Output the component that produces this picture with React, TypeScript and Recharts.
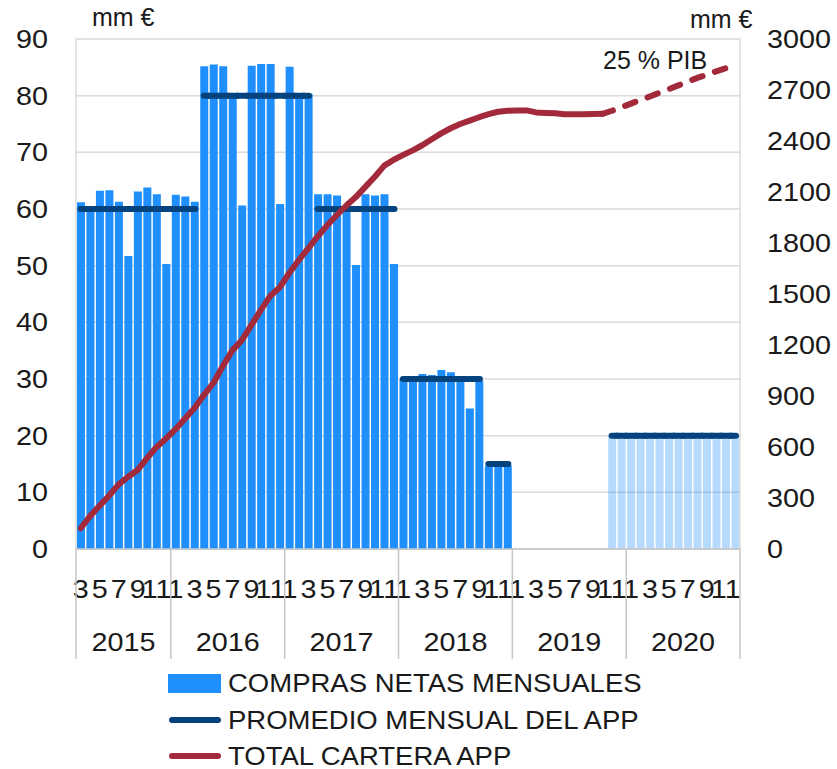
import React from "react";
import { ComposedChart, Bar, Line, XAxis, YAxis, CartesianGrid, Cell } from "recharts";

// ---- data (mm €) ----
const YEARS = [2015, 2016, 2017, 2018, 2019, 2020];
const FIRST_MONTH = [3, 1, 1, 1, 1, 1];

// compras netas mensuales (null = sin compras)
const COMPRAS_2015 = [61.2, 60.3, 63.2, 63.3, 61.3, 51.7, 63.1, 63.8, 62.6, 50.3];
const COMPRAS_2016 = [62.5, 62.2, 61.3, 85.2, 85.5, 85.2, 80.2, 60.6, 85.3, 85.6, 85.6, 60.9];
const COMPRAS_2017 = [85.1, 80.1, 80.3, 62.6, 62.6, 62.4, 60.2, 50.1, 62.6, 62.4, 62.6, 50.3];
const COMPRAS_2018 = [30.0, 30.1, 30.9, 30.7, 31.6, 31.2, 30.0, 24.8, 29.7, 14.6, 15.0, 14.7];
const COMPRAS_2019 = [null, null, null, null, null, null, null, null, null, null, 20, 20];
const COMPRAS_2020 = [20, 20, 20, 20, 20, 20, 20, 20, 20, 20, 20, 20];

// promedio mensual del APP
const PROMEDIO_2015 = [60, 60, 60, 60, 60, 60, 60, 60, 60, 60];
const PROMEDIO_2016 = [60, 60, 60, 80, 80, 80, 80, 80, 80, 80, 80, 80];
const PROMEDIO_2017 = [80, 80, 80, 60, 60, 60, 60, 60, 60, 60, 60, 60];
const PROMEDIO_2018 = [30, 30, 30, 30, 30, 30, 30, 30, 30, 15, 15, 15];
const PROMEDIO_2019 = [null, null, null, null, null, null, null, null, null, null, 20, 20];
const PROMEDIO_2020 = [20, 20, 20, 20, 20, 20, 20, 20, 20, 20, 20, 20];

// total cartera APP (eje derecho)
const CARTERA_2015 = [122, 195, 255, 315, 380, 425, 465, 535, 600, 650];
const CARTERA_2016 = [705, 768, 830, 907, 978, 1078, 1170, 1229, 1318, 1407, 1490, 1540];
const CARTERA_2017 = [1625, 1700, 1770, 1840, 1905, 1965, 2020, 2070, 2130, 2190, 2255, 2290];
const CARTERA_2018 = [2318, 2345, 2375, 2410, 2445, 2475, 2500, 2520, 2540, 2558, 2572, 2578];
const CARTERA_2019 = [2580, 2580, 2568, 2565, 2563, 2557, 2557, 2558, 2559, 2560, null, null];
const CARTERA_2020 = [null, null, null, null, null, null, null, null, null, null, null, null];

// proyección (trazo discontinuo)
const PROY_2019 = [null, null, null, null, null, null, null, null, null, 2560, 2578, 2598];
const PROY_2020 = [2620, 2641, 2662, 2684, 2705, 2727, 2750, 2771, 2790, 2810, 2828, 2846];

const LEFT_TICKS = [0, 10, 20, 30, 40, 50, 60, 70, 80, 90];
const RIGHT_TICKS = [0, 300, 600, 900, 1200, 1500, 1800, 2100, 2400, 2700, 3000];

const COMPRAS = [COMPRAS_2015, COMPRAS_2016, COMPRAS_2017, COMPRAS_2018, COMPRAS_2019, COMPRAS_2020];
const PROMEDIO = [PROMEDIO_2015, PROMEDIO_2016, PROMEDIO_2017, PROMEDIO_2018, PROMEDIO_2019, PROMEDIO_2020];
const CARTERA = [CARTERA_2015, CARTERA_2016, CARTERA_2017, CARTERA_2018, CARTERA_2019, CARTERA_2020];
const PROY = [COMPRAS_2015.map(() => null), COMPRAS_2016.map(() => null), COMPRAS_2017.map(() => null),
  COMPRAS_2018.map(() => null), PROY_2019, PROY_2020];

type Row = {
  id: string; year: number; m: number; i: number; proj: boolean;
  compras: number | null; avg: number | null; total: number | null; proy: number | null;
};

const rows: Row[] = [];
YEARS.forEach((year, yi) => {
  COMPRAS[yi].forEach((v, k) => {
    const m = FIRST_MONTH[yi] + k;
    rows.push({
      id: `${year}-${m}`, year, m, i: rows.length,
      proj: year > 2019 || (year === 2019 && m >= 11),
      compras: v, avg: PROMEDIO[yi][k], total: CARTERA[yi][k], proy: PROY[yi][k],
    });
  });
});
const byId: Record<string, Row> = {};
rows.forEach((r) => (byId[r.id] = r));

// ---- layout ----
const W = 837;
const H = 661;
const LEFT_W = 76;
const RIGHT_W = 97;
const TOP = 39;
const MONTH_H = 56;
const YEAR_H = 56;
const PLOT_BOTTOM = H - MONTH_H - YEAR_H;
const BAND = (W - LEFT_W - RIGHT_W) / rows.length;

const BLUE = "#1e8ffd";
const NAVY = "#05437f";
const RED = "#a32a3b";
const GRID = "#dadada";
const AXIS = "#c6c6c6";
const INK = "#1a1a1a";
const FONT = "'Liberation Sans', Arial, Helvetica, sans-serif";
const SX = 1.15;

const LeftTick = ({ x, y, payload }: any) => (
  <text transform={`translate(${x},${y}) scale(${SX},1)`} textAnchor="end" dy="0.36em"
    fontSize={25} fontFamily={FONT} fill={INK}>{payload.value}</text>
);

const RightTick = ({ x, y, payload }: any) => (
  <text transform={`translate(${x},${y}) scale(${SX},1)`} textAnchor="start" dy="0.36em"
    fontSize={25} fontFamily={FONT} fill={INK}>{payload.value}</text>
);

const MonthTick = ({ x, payload }: any) => {
  const r = byId[payload.value];
  if (!r || r.m % 2 === 0) return null;
  return (
    <text transform={`translate(${x},${PLOT_BOTTOM + 31}) scale(${SX},1)`} textAnchor="middle" dy="0.71em"
      fontSize={25} fontFamily={FONT} fill={INK}>{r.m}</text>
  );
};

// year labels and the dividers between years
const YearTick = ({ x, payload }: any) => {
  const r = byId[payload.value];
  if (!r) return null;
  const y1 = PLOT_BOTTOM;
  const y2 = PLOT_BOTTOM + MONTH_H + 54;
  const same = rows.filter((o) => o.year === r.year);
  const mid = (same[0].i + same[same.length - 1].i) / 2;
  const out: React.ReactNode[] = [];
  if (r.i === same[0].i) {
    out.push(<line key="a" x1={x - BAND / 2} x2={x - BAND / 2} y1={y1} y2={y2} stroke={AXIS} strokeWidth={1.5} />);
  }
  if (r.i === rows.length - 1) {
    out.push(<line key="b" x1={x + BAND / 2} x2={x + BAND / 2} y1={y1} y2={y2} stroke={AXIS} strokeWidth={1.5} />);
  }
  if (Math.floor(mid) === r.i) {
    const cx = x + (mid - r.i) * BAND;
    out.push(
      <text key="t" transform={`translate(${cx},${PLOT_BOTTOM + MONTH_H + 28}) scale(${SX},1)`}
        textAnchor="middle" dy="0.71em" fontSize={25} fontFamily={FONT} fill={INK}>{r.year}</text>
    );
  }
  return <g>{out}</g>;
};

const AvgShape = (props: any) => {
  const { x, y, width, payload } = props;
  if (!payload || payload.avg == null || y == null || isNaN(y)) return null;
  const k = payload.i;
  const prev = k > 0 ? rows[k - 1].avg : null;
  const next = k < rows.length - 1 ? rows[k + 1].avg : null;
  const c = x + width / 2;
  const x1 = prev === payload.avg ? c - BAND / 2 - 0.5 : c - BAND / 2 + 4.2;
  const x2 = next === payload.avg ? c + BAND / 2 + 0.5 : c + BAND / 2 - 4.2;
  return <line x1={x1} x2={x2} y1={y} y2={y} stroke={NAVY} strokeWidth={6} strokeLinecap="round" />;
};

const textStyle: React.CSSProperties = {
  position: "absolute", fontFamily: FONT, fontSize: 25, lineHeight: "25px",
  color: INK, whiteSpace: "nowrap", transformOrigin: "left center",
};

const legendItems = [
  { label: "COMPRAS NETAS MENSUALES", kind: "bar", color: BLUE },
  { label: "PROMEDIO MENSUAL DEL APP", kind: "line", color: NAVY },
  { label: "TOTAL CARTERA APP", kind: "line", color: RED },
];

export default function App() {
  return (
    <div style={{ position: "absolute", left: 0, top: 0, width: W, height: 769, background: "#fff", overflow: "hidden" }}>
      <ComposedChart width={W} height={H} data={rows} barCategoryGap="10%"
        margin={{ top: TOP, right: 0, bottom: 0, left: 0 }}>
        <CartesianGrid yAxisId="left" vertical={false} stroke={GRID} strokeWidth={1.5} />
        <XAxis dataKey="id" height={MONTH_H} interval={0} tickLine={false} tickSize={0} tickMargin={31}
          axisLine={{ stroke: AXIS, strokeWidth: 1.5 }} tick={<MonthTick />} />
        <XAxis xAxisId="year" dataKey="id" height={YEAR_H} interval={0} tickLine={false} tickSize={0}
          tickMargin={28} axisLine={false} tick={<YearTick />} />
        <XAxis xAxisId="avg" dataKey="id" hide />
        <YAxis yAxisId="left" width={LEFT_W} domain={[0, 90]} ticks={LEFT_TICKS} interval={0}
          tickLine={false} tickSize={0} tickMargin={28} axisLine={{ stroke: GRID, strokeWidth: 1.5 }}
          tick={<LeftTick />} />
        <YAxis yAxisId="right" orientation="right" width={RIGHT_W} domain={[0, 3000]} ticks={RIGHT_TICKS}
          interval={0} tickLine={false} tickSize={0} tickMargin={27} axisLine={{ stroke: GRID, strokeWidth: 1.5 }}
          tick={<RightTick />} />
        <Bar yAxisId="left" dataKey="compras" isAnimationActive={false}>
          {rows.map((r) => (
            <Cell key={r.id} fill={BLUE} fillOpacity={r.proj ? 0.32 : 1} />
          ))}
        </Bar>
        <Line yAxisId="right" dataKey="total" type="linear" stroke={RED} strokeWidth={6} dot={false}
          strokeLinejoin="round" strokeLinecap="round" isAnimationActive={false} />
        <Line yAxisId="right" dataKey="proy" type="linear" stroke={RED} strokeWidth={6} dot={false}
          strokeDasharray="11 13" strokeLinecap="round" isAnimationActive={false} />
        <Bar xAxisId="avg" yAxisId="left" dataKey="avg" shape={<AvgShape />} isAnimationActive={false} />
      </ComposedChart>

      <span style={{ ...textStyle, left: 92, top: 5 }}>mm €</span>
      <span style={{ ...textStyle, left: 690, top: 7 }}>mm €</span>
      <span style={{ ...textStyle, left: 603, top: 48 }}>25 % PIB</span>

      {legendItems.map((it, k) => (
        <div key={it.label} style={{ position: "absolute", left: 168, top: 665 + k * 36.5, height: 36, width: 600 }}>
          {it.kind === "bar" ? (
            <div style={{ position: "absolute", left: 0, top: 9, width: 53, height: 19, background: it.color }} />
          ) : (
            <div style={{ position: "absolute", left: 1, top: 15, width: 52, height: 6, borderRadius: 3, background: it.color }} />
          )}
          <span style={{ ...textStyle, left: 60, top: 6, transform: "scaleX(1.1)" }}>{it.label}</span>
        </div>
      ))}
    </div>
  );
}
